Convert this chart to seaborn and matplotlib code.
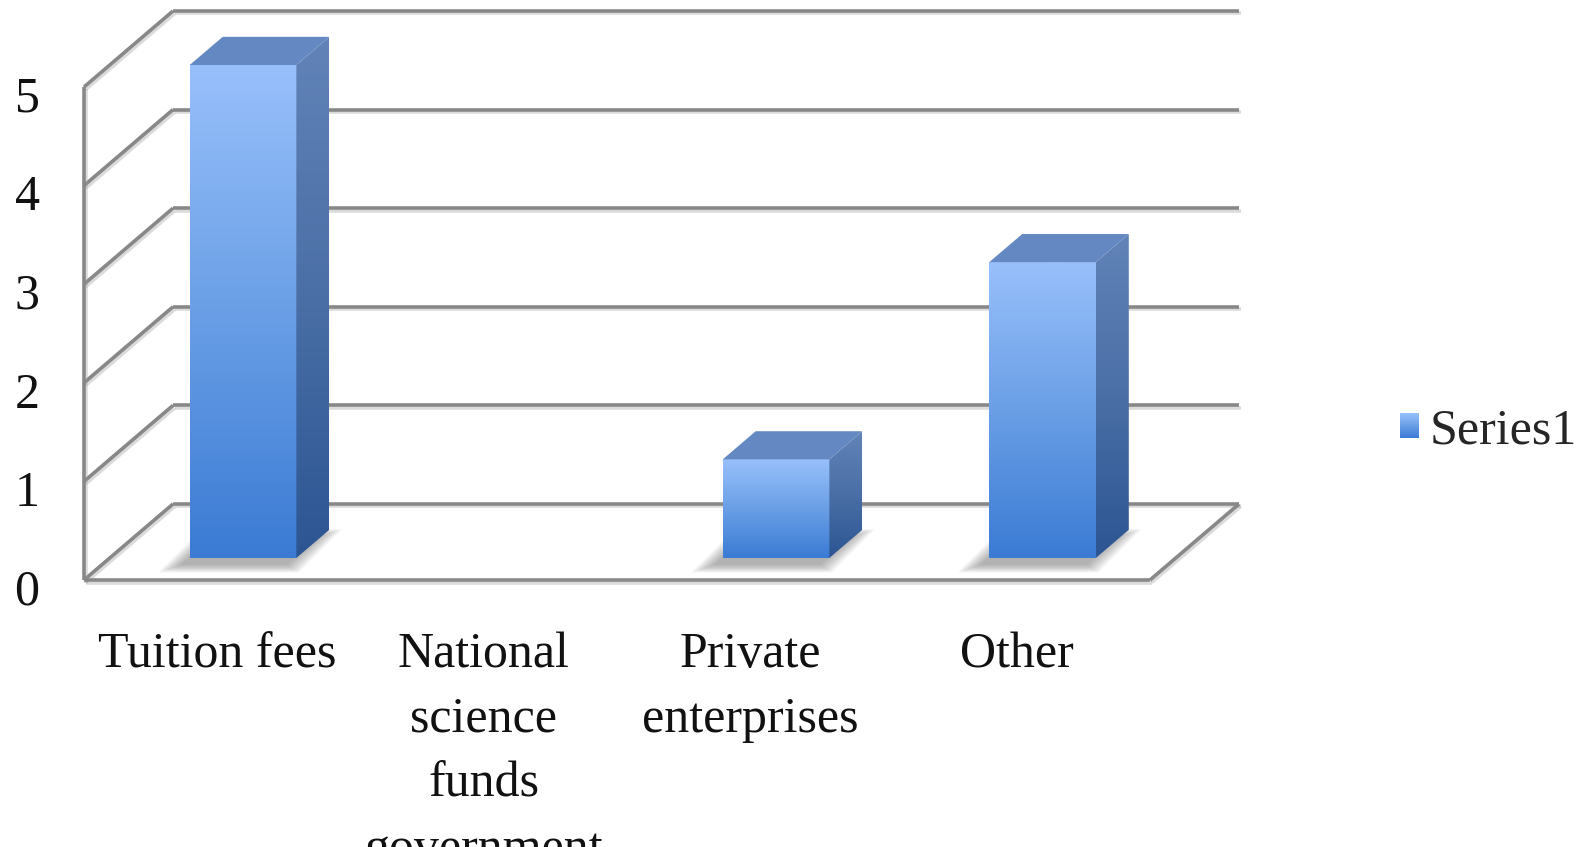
import numpy as np
import matplotlib
matplotlib.use("Agg")
import matplotlib.pyplot as plt
import matplotlib.patheffects as pe
import seaborn as sns
import pandas as pd
from matplotlib.patches import Polygon, Rectangle
from matplotlib.transforms import Affine2D, ScaledTranslation
from matplotlib.colors import LinearSegmentedColormap
from matplotlib.legend_handler import HandlerBase
from matplotlib.image import BboxImage
from matplotlib.transforms import Bbox, TransformedBbox

# ---- data -------------------------------------------------------------
categories = ["Tuition fees", "National\nscience\nfunds\ngovernment",
              "Private\nenterprises", "Other"]
values = [5, 0, 1, 3]
series_name = "Series1"
y_ticks = [0, 1, 2, 3, 4, 5]

# ---- style --------------------------------------------------------------
sns.set_theme(style="white")
plt.rcParams["font.family"] = ["Liberation Serif", "DejaVu Serif"]
FS = 36

W, H = 1591, 847
fig = plt.figure(figsize=(W / 100, H / 100), dpi=100)
fig.patch.set_facecolor("white")

# pseudo-3D box: depth offset of the back wall in data units
DX, DY = 0.334, 0.771
F0, BD = 0.29, 0.37          # bar front depth and bar thickness (fraction of depth)
BAR_W = 0.4

XMIN, XMAX = -0.5, 3.85
YMIN, YMAX = -0.1, 5.85
px_per_x = (1150 - 84) / 4.0
px_per_y = (580 - 87) / 5.0
left_px = 84
right_px = 84 + (XMAX - XMIN) * px_per_x
bottom_px = 580 - YMIN * px_per_y
top_px = 580 - YMAX * px_per_y
ax = fig.add_axes([left_px / W, 1 - bottom_px / H,
                   (right_px - left_px) / W, (bottom_px - top_px) / H])
ax.set_facecolor("white")

df = pd.DataFrame({"source": categories, "value": values})
sns.barplot(data=df, x="source", y="value", width=BAR_W, color="#4a8ae0",
            saturation=1, ax=ax, zorder=5)
if ax.get_legend() is not None:
    ax.get_legend().remove()

ax.set_autoscale_on(False)
ax.set_xlim(XMIN, XMAX)
ax.set_ylim(YMIN, YMAX)

# ---- box: walls, gridlines, floor --------------------------------------
grid_kw = dict(color="#888888", lw=2.6, solid_capstyle="butt", clip_on=False, zorder=1,
               path_effects=[pe.SimpleLineShadow(offset=(1.2, -1.8), shadow_color="#9a9a9a",
                                                 alpha=0.35), pe.Normal()])
x_lo, x_hi = -0.5, len(categories) - 0.5
for t in y_ticks:
    # back wall line
    ax.plot([x_lo + DX, x_hi + DX], [t + DY, t + DY], **grid_kw)
    # side wall diagonal
    ax.plot([x_lo, x_lo + DX], [t, t + DY], **grid_kw)
# front vertical edge of side wall
ax.plot([x_lo, x_lo], [0, max(y_ticks)], **grid_kw)
# floor front edge and right edge
ax.plot([x_lo, x_hi], [0, 0], **grid_kw)
ax.plot([x_hi, x_hi + DX], [0, DY], **grid_kw)

# ---- gradients --------------------------------------------------------------
front_cmap = LinearSegmentedColormap.from_list("front", ["#3b7bd4", "#6a9fe6", "#98c0fb"])
side_cmap = LinearSegmentedColormap.from_list("side", ["#2c5592", "#4a6fa6", "#6183b8"])
top_color = "#6489c2"
vgrad = np.linspace(0, 1, 256).reshape(-1, 1)

ox, oy = F0 * DX, F0 * DY
bx, by = BD * DX, BD * DY

for p, v in zip(list(ax.patches), values):
    x0, w, h = p.get_x(), p.get_width(), p.get_height()
    p.set_transform(Affine2D().translate(ox, oy) + ax.transData)
    if h <= 0:
        p.set_visible(False)
        continue
    p.set_facecolor("none")
    p.set_edgecolor("none")

    # soft floor shadow
    fx = [x0 + ox, x0 + w + ox, x0 + w + ox + bx, x0 + ox + bx]
    fy = [oy, oy, oy + by, oy + by]
    cx, cy = np.mean(fx), np.mean(fy)
    for k in range(10):
        s = 1.0 + 0.035 * k
        sx = [cx + (xx - cx) * s - 0.035 for xx in fx]
        sy = [cy + (yy - cy) * (1.0 + 0.06 * k) - 0.07 for yy in fy]
        ax.add_patch(Polygon(list(zip(sx, sy)), closed=True, facecolor="#5e5e5e",
                             edgecolor="none", alpha=0.06, zorder=2))

    # front face
    ax.imshow(vgrad, extent=[x0 + ox, x0 + w + ox, oy, oy + h], origin="lower",
              aspect="auto", cmap=front_cmap, interpolation="bilinear", zorder=5)

    # right side face
    side = Polygon([(x0 + w + ox, oy), (x0 + w + ox + bx, oy + by),
                    (x0 + w + ox + bx, oy + by + h), (x0 + w + ox, oy + h)],
                   closed=True, facecolor="none", edgecolor="none", zorder=5)
    ax.add_patch(side)
    ims = ax.imshow(vgrad, extent=[x0 + w + ox, x0 + w + ox + bx, oy, oy + by + h],
                    origin="lower", aspect="auto", cmap=side_cmap,
                    interpolation="bilinear", zorder=5)
    ims.set_clip_path(side)

    # top face
    ax.add_patch(Polygon([(x0 + ox, oy + h), (x0 + w + ox, oy + h),
                          (x0 + w + ox + bx, oy + h + by), (x0 + ox + bx, oy + h + by)],
                         closed=True, facecolor=top_color, edgecolor="none", zorder=6))

ax.set_xlim(XMIN, XMAX)
ax.set_ylim(YMIN, YMAX)

# ---- axes text -------------------------------------------------------------
for s in ax.spines.values():
    s.set_visible(False)
ax.set_yticks(y_ticks)
ax.set_yticklabels([str(t) for t in y_ticks])
ax.tick_params(axis="y", length=0, pad=32, labelsize=FS, labelcolor="#111111")
ax.tick_params(axis="x", length=0, pad=30, labelsize=FS, labelcolor="#111111")
ax.set_xticks(range(len(categories)))
ax.set_xticklabels(categories, linespacing=1.52)
ax.set_xlabel("")
ax.set_ylabel("")
for lbl in ax.get_yticklabels():
    lbl.set_transform(lbl.get_transform() + ScaledTranslation(0, -0.07, fig.dpi_scale_trans))


# ---- legend -------------------------------------------------------------
class GradientSquare(HandlerBase):
    def create_artists(self, legend, orig_handle, xdescent, ydescent, width, height,
                       fontsize, trans):
        bb = Bbox.from_bounds(-xdescent, -ydescent, width, height)
        img = BboxImage(TransformedBbox(bb, trans), cmap=front_cmap,
                        interpolation="bilinear", origin="lower")
        img.set_data(vgrad)
        return [img]


handle = Rectangle((0, 0), 1, 1, facecolor="#4d8be0", edgecolor="none")
fig.legend([handle], [series_name], loc="center left",
           bbox_to_anchor=(1400 / W, 1 - 431 / H), frameon=False, fontsize=FS,
           handlelength=0.38, handleheight=0.38, handletextpad=0.22,
           borderpad=0, borderaxespad=0,
           handler_map={Rectangle: GradientSquare()})

fig.savefig("out.png", dpi=100, facecolor="white")
